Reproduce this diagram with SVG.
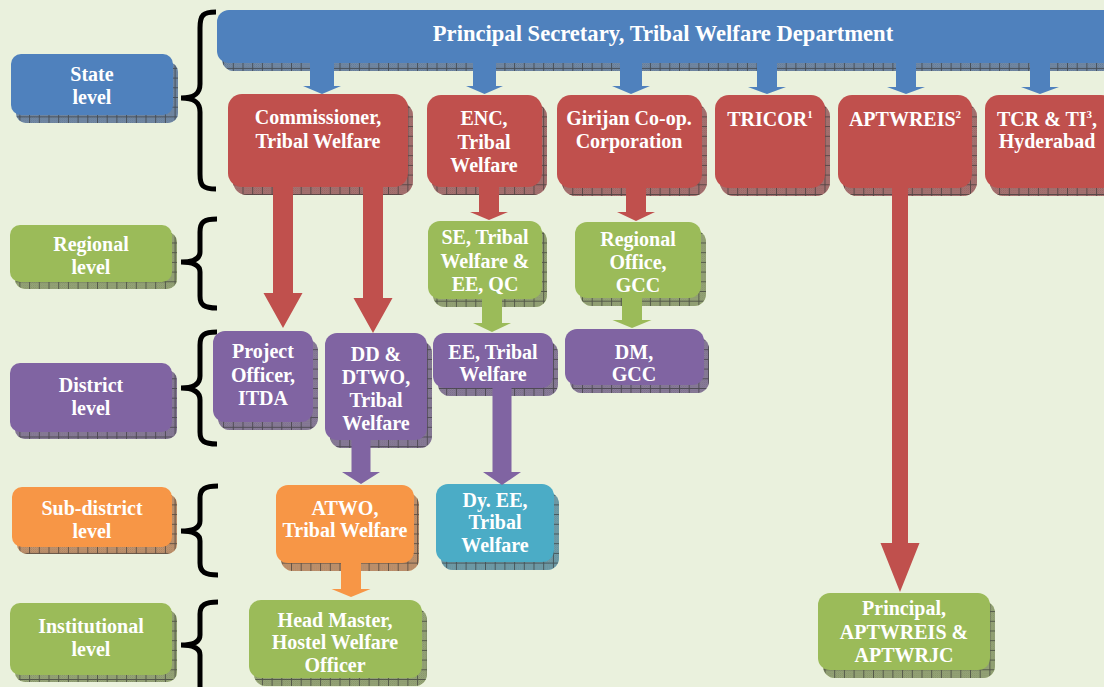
<svg xmlns="http://www.w3.org/2000/svg" width="1104" height="687" viewBox="0 0 1104 687">
<style>
.bg{fill:#EAF1DD}
.blue{fill:#4F81BD}.red{fill:#C0504D}.green{fill:#9BBB59}.purple{fill:#8064A2}.orange{fill:#F79646}.aqua{fill:#4BACC6}
.hatch{fill:url(#hatch)}
.brace{fill:none;stroke:#000;stroke-width:5;stroke-linecap:butt}
text{font-family:"Liberation Serif","Times New Roman",serif;font-weight:bold;fill:#fff;text-anchor:middle;font-size:20px}
.title{font-size:22.6px}
.sup{font-size:11px}
</style>
<defs>
<pattern id="dots" width="2" height="2" patternUnits="userSpaceOnUse">
<rect width="2" height="2" fill="#a0a0a0"/>
<rect width="1" height="1" fill="#707070"/>
<rect x="1" y="1" width="1" height="1" fill="#707070"/>
</pattern>
<pattern id="hatch" width="9.7" height="9.7" patternUnits="userSpaceOnUse">
<rect width="9.7" height="9.7" fill="url(#dots)" fill-opacity="0.55"/>
<path d="M0 0.5H9.7M0.5 0V9.7" stroke="#333" stroke-width="1" stroke-opacity="0.65"/>
</pattern>
</defs>
<rect class="bg" width="1104" height="687"/>

<g id="braces">
<path class="brace" d="M216,12 C203,12 200,15 200,28 L200,84 C200,94 194,98 181,98 C194,98 200,102 200,112 L200,174 C200,186 203,189 216,189"/>
<path class="brace" d="M217,219 C204,219 200,222 200,232 L200,252 C200,259 194,262 181,262 C194,262 200,265 200,272 L200,296 C200,305 204,308 217,308"/>
<path class="brace" d="M217,332 C204,332 200,335 200,345 L200,376 C200,384 194,388 181,388 C194,388 200,392 200,400 L200,432 C200,441 204,444 217,444"/>
<path class="brace" d="M218,486 C205,486 200,489 200,498 L200,521 C200,528 194,531 181,531 C194,531 200,534 200,541 L200,563 C200,572 205,575 218,575"/>
<path class="brace" d="M218,602 C205,602 200,605 200,614 L200,635 C200,642 194,645 181,645 C194,645 200,648 200,655 L200,700"/>
</g>

<g id="level-state"><rect class="blue" x="16" y="62" width="162" height="61" rx="10"/><rect class="hatch" x="16" y="62" width="162" height="61" rx="10"/><rect class="blue" x="11" y="54" width="162" height="61" rx="10"/><text x="92" y="81">State</text><text x="92" y="104">level</text></g>
<g id="level-regional"><rect class="green" x="15" y="232" width="162" height="57" rx="10"/><rect class="hatch" x="15" y="232" width="162" height="57" rx="10"/><rect class="green" x="10" y="225" width="162" height="57" rx="10"/><text x="91" y="251">Regional</text><text x="91" y="274">level</text></g>
<g id="level-district"><rect class="purple" x="15" y="370" width="162" height="69" rx="10"/><rect class="hatch" x="15" y="370" width="162" height="69" rx="10"/><rect class="purple" x="10" y="363" width="162" height="69" rx="10"/><text x="91" y="392">District</text><text x="91" y="415">level</text></g>
<g id="level-subdistrict"><rect class="orange" x="17" y="494" width="160" height="60" rx="10"/><rect class="hatch" x="17" y="494" width="160" height="60" rx="10"/><rect class="orange" x="12" y="487" width="160" height="60" rx="10"/><text x="92" y="515">Sub-district</text><text x="92" y="538">level</text></g>
<g id="level-institutional"><rect class="green" x="15" y="610" width="162" height="72" rx="10"/><rect class="hatch" x="15" y="610" width="162" height="72" rx="10"/><rect class="green" x="10" y="603" width="162" height="72" rx="10"/><text x="91" y="633">Institutional</text><text x="91" y="656">level</text></g>

<g id="principal-secretary"><rect class="blue" x="222" y="18" width="900" height="53" rx="12"/><rect class="hatch" x="222" y="18" width="900" height="53" rx="12"/><rect class="blue" x="217" y="10" width="900" height="53" rx="12"/><text class="title" x="663" y="41">Principal Secretary, Tribal Welfare Department</text></g>

<g id="commissioner"><rect class="red" x="233" y="102" width="180" height="93" rx="14"/><rect class="hatch" x="233" y="102" width="180" height="93" rx="14"/><rect class="red" x="228" y="94" width="180" height="93" rx="14"/><text x="318" y="124">Commissioner,</text><text x="318" y="148">Tribal Welfare</text></g>
<g id="enc"><rect class="red" x="432" y="103" width="115" height="92" rx="14"/><rect class="hatch" x="432" y="103" width="115" height="92" rx="14"/><rect class="red" x="427" y="95" width="115" height="92" rx="14"/><text x="484" y="125">ENC,</text><text x="484" y="149">Tribal</text><text x="484" y="172">Welfare</text></g>
<g id="girijan"><rect class="red" x="562" y="103" width="145" height="93" rx="14"/><rect class="hatch" x="562" y="103" width="145" height="93" rx="14"/><rect class="red" x="557" y="95" width="145" height="93" rx="14"/><text x="629" y="125">Girijan Co-op.</text><text x="629" y="148">Corporation</text></g>
<g id="tricor"><rect class="red" x="720" y="103" width="110" height="93" rx="14"/><rect class="hatch" x="720" y="103" width="110" height="93" rx="14"/><rect class="red" x="715" y="95" width="110" height="93" rx="14"/><text x="770" y="126">TRICOR<tspan class="sup" dy="-8">1</tspan></text></g>
<g id="aptwreis"><rect class="red" x="843" y="103" width="134" height="93" rx="14"/><rect class="hatch" x="843" y="103" width="134" height="93" rx="14"/><rect class="red" x="838" y="95" width="134" height="93" rx="14"/><text x="905" y="126">APTWREIS<tspan class="sup" dy="-8">2</tspan></text></g>
<g id="tcr"><rect class="red" x="990" y="103" width="130" height="93" rx="14"/><rect class="hatch" x="990" y="103" width="130" height="93" rx="14"/><rect class="red" x="985" y="95" width="130" height="93" rx="14"/><text x="1047" y="126">TCR &amp; TI<tspan class="sup" dy="-8">3</tspan><tspan dy="8">,</tspan></text><text x="1047" y="148">Hyderabad</text></g>

<g id="se"><rect class="green" x="433" y="229" width="114" height="78" rx="12"/><rect class="hatch" x="433" y="229" width="114" height="78" rx="12"/><rect class="green" x="428" y="221" width="114" height="78" rx="12"/><text x="485" y="244">SE, Tribal</text><text x="485" y="268">Welfare &amp;</text><text x="485" y="291">EE, QC</text></g>
<g id="regional-office"><rect class="green" x="580" y="230" width="126" height="76" rx="12"/><rect class="hatch" x="580" y="230" width="126" height="76" rx="12"/><rect class="green" x="575" y="222" width="126" height="76" rx="12"/><text x="638" y="246">Regional</text><text x="638" y="269">Office,</text><text x="638" y="292">GCC</text></g>

<g id="project-officer"><rect class="purple" x="218" y="339" width="100" height="91" rx="12"/><rect class="hatch" x="218" y="339" width="100" height="91" rx="12"/><rect class="purple" x="213" y="331" width="100" height="91" rx="12"/><text x="263" y="358">Project</text><text x="263" y="382">Officer,</text><text x="263" y="405">ITDA</text></g>
<g id="dd-dtwo"><rect class="purple" x="330" y="341" width="102" height="107" rx="12"/><rect class="hatch" x="330" y="341" width="102" height="107" rx="12"/><rect class="purple" x="325" y="333" width="102" height="107" rx="12"/><text x="376" y="361">DD &amp;</text><text x="376" y="384">DTWO,</text><text x="376" y="407">Tribal</text><text x="376" y="430">Welfare</text></g>
<g id="ee"><rect class="purple" x="438" y="341" width="120" height="55" rx="12"/><rect class="hatch" x="438" y="341" width="120" height="55" rx="12"/><rect class="purple" x="433" y="333" width="120" height="55" rx="12"/><text x="493" y="359">EE, Tribal</text><text x="493" y="381">Welfare</text></g>
<g id="dm"><rect class="purple" x="570" y="337" width="139" height="56" rx="12"/><rect class="hatch" x="570" y="337" width="139" height="56" rx="12"/><rect class="purple" x="565" y="329" width="139" height="56" rx="12"/><text x="634" y="359">DM,</text><text x="634" y="381">GCC</text></g>

<g id="atwo"><rect class="orange" x="281" y="493" width="138" height="78" rx="12"/><rect class="hatch" x="281" y="493" width="138" height="78" rx="12"/><rect class="orange" x="276" y="485" width="138" height="78" rx="12"/><text x="345" y="515">ATWO,</text><text x="345" y="537">Tribal Welfare</text></g>
<g id="dy-ee"><rect class="aqua" x="441" y="492" width="118" height="78" rx="12"/><rect class="hatch" x="441" y="492" width="118" height="78" rx="12"/><rect class="aqua" x="436" y="484" width="118" height="78" rx="12"/><text x="495" y="507">Dy. EE,</text><text x="495" y="529">Tribal</text><text x="495" y="552">Welfare</text></g>

<g id="head-master"><rect class="green" x="254" y="608" width="173" height="78" rx="12"/><rect class="hatch" x="254" y="608" width="173" height="78" rx="12"/><rect class="green" x="249" y="600" width="173" height="78" rx="12"/><text x="335" y="627">Head Master,</text><text x="335" y="649">Hostel Welfare</text><text x="335" y="672">Officer</text></g>
<g id="principal"><rect class="green" x="823" y="601" width="172" height="77" rx="12"/><rect class="hatch" x="823" y="601" width="172" height="77" rx="12"/><rect class="green" x="818" y="593" width="172" height="77" rx="12"/><text x="904" y="615">Principal,</text><text x="904" y="639">APTWREIS &amp;</text><text x="904" y="662">APTWRJC</text></g>

<g id="connectors">
<polygon class="blue" points="310,62 334,62 334,86 341,86 322,94 303,86 310,86"/>
<polygon class="blue" points="473,62 496,62 496,86 503,86 484.5,94 466,86 473,86"/>
<polygon class="blue" points="620,62 642,62 642,86 650,86 631,94 612,86 620,86"/>
<polygon class="blue" points="757,62 777,62 777,87 786,87 767,94 748,87 757,87"/>
<polygon class="blue" points="896,62 916,62 916,87 925,87 906,94 887,87 896,87"/>
<polygon class="blue" points="1030,62 1050,62 1050,87 1059,87 1040,94 1021,87 1030,87"/>
<polygon class="red" points="273,187 293,187 293,293 302.5,293 283,328 263.5,293 273,293"/>
<polygon class="red" points="363,187 383,187 383,298 392.5,298 373,333 353.5,298 363,298"/>
<polygon class="red" points="479,187 499,187 499,212 508,212 489,220 470,212 479,212"/>
<polygon class="red" points="626,188 646,188 646,212 655,212 636,221 617,212 626,212"/>
<polygon class="red" points="892,188 908,188 908,543 919.5,543 900,592 880.5,543 892,543"/>
<polygon class="green" points="482,299 502,299 502,323 511,323 492,332 473,323 482,323"/>
<polygon class="green" points="622,298 642,298 642,320 651.5,320 632,328 612.5,320 622,320"/>
<polygon class="purple" points="351.5,440 370.5,440 370.5,472 380,472 361,484 342,472 351.5,472"/>
<polygon class="purple" points="492.5,388 511.5,388 511.5,472 521,472 502,485 483,472 492.5,472"/>
<polygon class="orange" points="341,563 361,563 361,589 370.5,589 351,597 331.5,589 341,589"/>
</g>
</svg>
